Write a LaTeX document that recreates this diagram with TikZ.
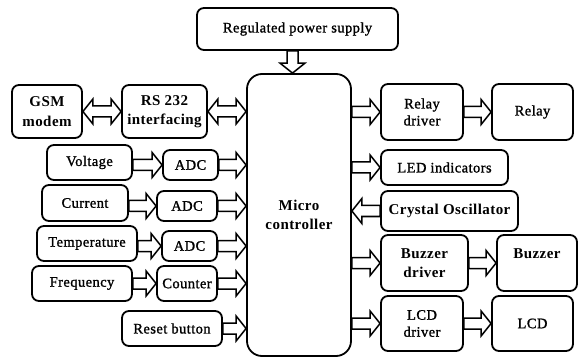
\documentclass[tikz,border=0pt]{standalone}
\usepackage{fontspec}
\setmainfont{Liberation Serif}[LetterSpace=3]
\newfontfamily\medfont{Liberation Serif}[LetterSpace=3,FakeBold=1.2]
\usetikzlibrary{calc}
\def\sh{5.5pt}
\def\hh{12.5pt}
\def\hl{10pt}
% right-pointing block arrow from #1.east to #2.west at the height of #3
\newcommand\rarr[3]{\draw[blockarr] let \p1=(#1.east), \p2=(#2.west), \p3=(#3.center) in
  (\x1,\y3+\sh) -- (\x2-\hl,\y3+\sh) -- (\x2-\hl,\y3+\hh) -- (\x2,\y3) -- (\x2-\hl,\y3-\hh) -- (\x2-\hl,\y3-\sh) -- (\x1,\y3-\sh) -- cycle;}
% left-pointing block arrow from #1.west to #2.east at the height of #3
\newcommand\larr[3]{\draw[blockarr] let \p1=(#1.west), \p2=(#2.east), \p3=(#3.center) in
  (\x1,\y3+\sh) -- (\x2+\hl,\y3+\sh) -- (\x2+\hl,\y3+\hh) -- (\x2,\y3) -- (\x2+\hl,\y3-\hh) -- (\x2+\hl,\y3-\sh) -- (\x1,\y3-\sh) -- cycle;}
% double block arrow between #1.east and #2.west at the height of #3
\newcommand\darr[3]{\draw[blockarr] let \p1=(#1.east), \p2=(#2.west), \p3=(#3.center) in
  (\x1,\y3) -- (\x1+\hl,\y3+\hh) -- (\x1+\hl,\y3+\sh) -- (\x2-\hl,\y3+\sh) -- (\x2-\hl,\y3+\hh) -- (\x2,\y3) -- (\x2-\hl,\y3-\hh) -- (\x2-\hl,\y3-\sh) -- (\x1+\hl,\y3-\sh) -- (\x1+\hl,\y3-\hh) -- cycle;}
\begin{document}
\begin{tikzpicture}[x=1pt,y=-1pt,
  box/.style={draw, line width=1.8pt, rounded corners=7pt, inner sep=1pt, align=center, fill=white},
  lt/.style={font=\fontsize{14.5}{17}\medfont},
  hv/.style={font=\fontsize{15}{19.5}\selectfont\bfseries},
  blockarr/.style={draw, line width=1.5pt, fill=white, line join=miter}]
\useasboundingbox (0,0) rectangle (578,358);
% nodes
\node[box,lt,minimum width=201pt,minimum height=42pt] (pw) at (297.5,29) {Regulated power supply};
\node[box,hv,minimum width=104pt,minimum height=282pt,rounded corners=15pt] (mc) at (299,215) {Micro\\controller};
\node[box,hv,minimum width=70pt,minimum height=53pt] (gsm) at (47,111.5) {GSM\\modem};
\node[box,hv,minimum width=85pt,minimum height=53pt] (rs) at (164.5,111.5) {RS 232\\interfacing};
\node[box,lt,minimum width=85pt,minimum height=35pt] (volt) at (89.5,162.5) {Voltage};
\node[box,lt,minimum width=55pt,minimum height=30pt] (adca) at (190.5,165) {ADC};
\node[box,lt,minimum width=86pt,minimum height=36pt] (cur) at (85,203) {Current};
\node[box,lt,minimum width=60pt,minimum height=30pt] (adcb) at (187,206) {ADC};
\node[box,lt,minimum width=100pt,minimum height=35pt] (temp) at (87,243.5) {Temperature};
\node[box,lt,minimum width=55pt,minimum height=30pt] (adcc) at (189.5,246) {ADC};
\node[box,lt,minimum width=100pt,minimum height=35pt] (freq) at (82,283.5) {Frequency};
\node[box,lt,minimum width=60pt,minimum height=35pt] (cnt) at (187,283.5) {Counter};
\node[box,lt,minimum width=100pt,minimum height=35pt] (rst) at (172,328.5) {Reset button};
\node[box,lt,minimum width=82pt,minimum height=56pt] (rd) at (422,112) {Relay\\driver};
\node[box,lt,minimum width=81pt,minimum height=56pt] (rl) at (532.5,112) {Relay};
\node[box,lt,minimum width=127pt,minimum height=35pt] (led) at (444.5,167.5) {LED indicators};
\node[box,hv,minimum width=137pt,minimum height=40pt] (xo) at (449.5,211) {Crystal Oscillator};
\node[box,hv,minimum width=87pt,minimum height=56pt] (bd) at (424.5,263) {Buzzer\\driver};
\node[box,hv,minimum width=80pt,minimum height=56pt] (bz) at (537,263) {Buzzer\\\mbox{}};
\node[box,lt,minimum width=82pt,minimum height=55pt] (ld) at (422,323.5) {LCD\\driver};
\node[box,lt,minimum width=81pt,minimum height=55pt] (lcd) at (532.5,323.5) {LCD};
% power arrow (down)
\draw[blockarr] let \p1=([xshift=-5pt]pw.south), \p2=(mc.north) in
  (\x1+\sh,\y1) -- (\x1+\sh,\y2+\hl) -- (\x1+\hh,\y2+\hl) -- (\x1,\y2) -- (\x1-\hh,\y2+\hl) -- (\x1-\sh,\y2+\hl) -- (\x1-\sh,\y1) -- cycle;
% left side
\darr{gsm}{rs}{gsm}
\darr{rs}{mc}{rs}
\rarr{volt}{adca}{adca}
\rarr{adca}{mc}{adca}
\rarr{cur}{adcb}{adcb}
\rarr{adcb}{mc}{adcb}
\rarr{temp}{adcc}{adcc}
\rarr{adcc}{mc}{adcc}
\rarr{freq}{cnt}{cnt}
\rarr{cnt}{mc}{cnt}
\rarr{rst}{mc}{rst}
% right side
\rarr{mc}{rd}{rd}
\rarr{rd}{rl}{rd}
\rarr{mc}{led}{led}
\larr{xo}{mc}{xo}
\rarr{mc}{bd}{bd}
\rarr{bd}{bz}{bd}
\rarr{mc}{ld}{ld}
\rarr{ld}{lcd}{ld}
\end{tikzpicture}
\end{document}
